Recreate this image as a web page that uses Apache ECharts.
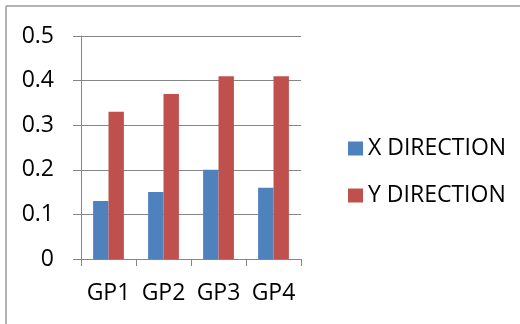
<!DOCTYPE html>
<html>
<head>
<meta charset="utf-8">
<script src="https://cdn.jsdelivr.net/npm/echarts@6/dist/echarts.min.js"></script>
<style>
html,body{margin:0;padding:0;background:#fff;}
#c{width:520px;height:324px;}
</style>
</head>
<body>
<div id="c"></div>
<script>
var categories = ["GP1", "GP2", "GP3", "GP4"];
var seriesNames = ["X DIRECTION", "Y DIRECTION"];
var xDirection = [0.13, 0.15, 0.20, 0.16];
var yDirection = [0.33, 0.37, 0.41, 0.41];
var colors = ["#4F81BD", "#C0504D"];

var FONT = "Open Sans";
var chart = echarts.init(document.getElementById("c"), null, {renderer: "canvas"});
chart.setOption({
  animation: false,
  backgroundColor: "#ffffff",
  textStyle: {fontFamily: FONT},
  graphic: [
    {type: "line", shape: {x1: 6, y1: 6, x2: 520, y2: 6}, style: {stroke: "#9a9a9a", lineWidth: 1.5}, silent: true},
    {type: "line", shape: {x1: 6, y1: 6, x2: 6, y2: 324}, style: {stroke: "#9a9a9a", lineWidth: 1.5}, silent: true}
  ],
  grid: {left: 81, right: 219, top: 36, bottom: 65, containLabel: false},
  legend: {
    orient: "vertical",
    left: 343,
    top: 132,
    itemWidth: 15,
    itemHeight: 14,
    itemGap: 24,
    icon: "rect",
    data: seriesNames,
    textStyle: {fontFamily: FONT, fontSize: 23, color: "#000"}
  },
  xAxis: {
    type: "category",
    data: categories,
    axisLine: {lineStyle: {color: "#868686", width: 1}},
    axisTick: {show: true, length: 7, lineStyle: {color: "#868686"}},
    axisLabel: {margin: 23, interval: 0, hideOverlap: false, fontFamily: FONT, fontSize: 23, color: "#000"}
  },
  yAxis: {
    type: "value",
    min: 0,
    max: 0.5,
    interval: 0.1,
    axisLine: {show: true, lineStyle: {color: "#868686", width: 1}},
    axisTick: {show: true, length: 8, lineStyle: {color: "#868686"}},
    splitLine: {show: true, lineStyle: {color: "#868686", width: 1}},
    axisLabel: {margin: 27, fontFamily: FONT, fontSize: 23, color: "#000"}
  },
  series: [
    {name: seriesNames[0], type: "bar", data: xDirection, itemStyle: {color: colors[0]}, barGap: "0%", barCategoryGap: "44%"},
    {name: seriesNames[1], type: "bar", data: yDirection, itemStyle: {color: colors[1]}, barGap: "0%", barCategoryGap: "44%"}
  ]
});
</script>
</body>
</html>
